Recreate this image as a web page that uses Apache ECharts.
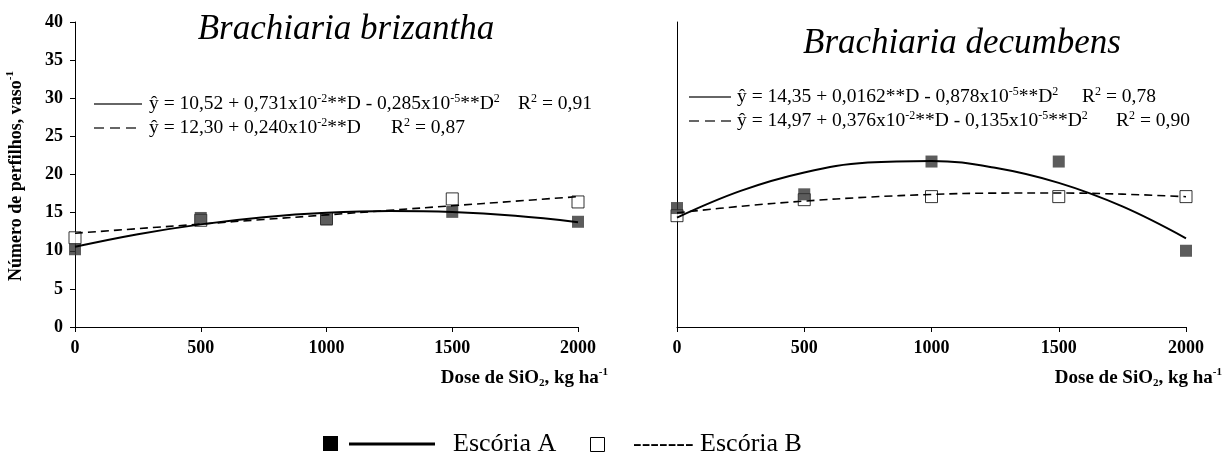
<!DOCTYPE html>
<html><head><meta charset="utf-8">
<script src="https://cdn.jsdelivr.net/npm/echarts@6/dist/echarts.min.js"></script>
<style>html,body{margin:0;padding:0;background:#fff}#c{width:1224px;height:464px}</style>
</head><body><div id="c"></div>
<script>
// ---- data ----
const doses = [0, 500, 1000, 1500, 2000];
const brizA = [10.2, 14.3, 14.1, 15.1, 13.8];
const brizB = [11.7, 14.0, 14.2, 16.8, 16.4];
const decA = [15.6, 17.4, 21.7, 21.7, 10.0];
const decB = [14.6, 16.7, 17.1, 17.1, 17.1];
const curveDoses = [0, 250, 500, 750, 1000, 1250, 1500, 1750, 2000];
const brizFitA = [10.52, 12.17, 13.46, 14.40, 14.98, 15.20, 15.07, 14.58, 13.74];
const brizFitB = [12.30, 12.90, 13.50, 14.10, 14.70, 15.30, 15.90, 16.50, 17.10];
const decFitA = [14.35, 17.85, 20.26, 21.56, 21.77, 20.88, 18.90, 15.81, 11.63];
const decFitB = [14.97, 15.83, 16.51, 17.03, 17.38, 17.56, 17.57, 17.42, 17.09];
const titles = ['Brachiaria brizantha', 'Brachiaria decumbens'];
const seriesNames = ['Escória A', 'Escória B'];
const equations = [
  'ŷ = 10,52 + 0,731x10{sup|-2}**D - 0,285x10{sup|-5}**D{sup|2}',
  'ŷ = 12,30 + 0,240x10{sup|-2}**D',
  'ŷ = 14,35 + 0,0162**D - 0,878x10{sup|-5}**D{sup|2}',
  'ŷ = 14,97 + 0,376x10{sup|-2}**D - 0,135x10{sup|-5}**D{sup|2}'
];
const r2 = ['R{sup|2} = 0,91', 'R{sup|2} = 0,87', 'R{sup|2} = 0,78', 'R{sup|2} = 0,90'];

const FF = 'Liberation Serif, Times New Roman, serif';
const zip = (xs, ys) => xs.map((x, i) => [x, ys[i]]);

const chart = echarts.init(document.getElementById('c'), null, {renderer: 'canvas'});

const EQ = 19.5;
const supRich = {
  sup: {fontSize: 12, fontFamily: FF, color: '#000', verticalAlign: 'top', lineHeight: 22},
  sub: {fontSize: 12, fontFamily: FF, color: '#000', verticalAlign: 'bottom', lineHeight: 22}
};
function eqText(x, y, txt) {
  return {type: 'text', x: x, y: y, style: {text: txt, fontFamily: FF, fontSize: EQ, fill: '#000',
    verticalAlign: 'middle', lineHeight: 22, rich: supRich}};
}
function sample(x1, x2, y, dashed) {
  return {type: 'line', shape: {x1: x1, y1: y, x2: x2, y2: y},
    style: {stroke: '#666', lineWidth: 2, lineDash: dashed ? [10, 6] : null}};
}
const boldRich = {
  sup: {fontSize: 11, fontWeight: 'bold', fontFamily: FF, verticalAlign: 'top', lineHeight: 22},
  sub: {fontSize: 11, fontWeight: 'bold', fontFamily: FF, verticalAlign: 'bottom', lineHeight: 22}
};

const xAxisBase = {
  type: 'value', min: 0, max: 2000, interval: 500,
  axisLine: {lineStyle: {color: '#000', width: 1}},
  axisTick: {show: true, length: 5, lineStyle: {color: '#000'}},
  axisLabel: {fontFamily: FF, fontWeight: 'bold', fontSize: 18, color: '#000', margin: 12,
    formatter: v => String(v)},
  splitLine: {show: false}
};

function scatterOpen(name, xi, data) {
  return {name: name, type: 'scatter', xAxisIndex: xi, yAxisIndex: xi, data: data, symbol: 'rect', symbolSize: 12,
    itemStyle: {color: '#fff', borderColor: '#000', borderWidth: 1}, z: 2};
}
function scatterFilled(name, xi, data) {
  return {name: name, type: 'scatter', xAxisIndex: xi, yAxisIndex: xi, data: data, symbol: 'rect', symbolSize: 12,
    itemStyle: {color: '#333'}, z: 3};
}
function fit(name, xi, data, dashed) {
  return {name: name, type: 'line', xAxisIndex: xi, yAxisIndex: xi, data: data, smooth: 0.4, showSymbol: false,
    lineStyle: {color: '#000', width: dashed ? 1.6 : 2, type: dashed ? [8, 5] : 'solid'}, z: 4, silent: true};
}

const option = {
  backgroundColor: '#fff',
  animation: false,
  grid: [
    {left: 75, top: 22, width: 503, height: 305},
    {left: 677, top: 22, width: 509, height: 305}
  ],
  xAxis: [
    Object.assign({gridIndex: 0}, xAxisBase),
    Object.assign({gridIndex: 1}, xAxisBase)
  ],
  yAxis: [
    {gridIndex: 0, type: 'value', min: 0, max: 40, interval: 5,
      axisLine: {show: true, lineStyle: {color: '#000'}},
      axisTick: {show: true, length: 5, lineStyle: {color: '#000'}},
      axisLabel: {fontFamily: FF, fontWeight: 'bold', fontSize: 18, color: '#000', margin: 12},
      splitLine: {show: false}},
    {gridIndex: 1, type: 'value', min: 0, max: 40, interval: 5,
      axisLine: {show: true, lineStyle: {color: '#000'}},
      axisTick: {show: false}, axisLabel: {show: false}, splitLine: {show: false}}
  ],
  series: [
    scatterOpen(seriesNames[1], 0, zip(doses, brizB)),
    scatterFilled(seriesNames[0], 0, zip(doses, brizA)),
    fit(seriesNames[0] + ' fit', 0, zip(curveDoses, brizFitA), false),
    fit(seriesNames[1] + ' fit', 0, zip(curveDoses, brizFitB), true),
    scatterOpen(seriesNames[1], 1, zip(doses, decB)),
    scatterFilled(seriesNames[0], 1, zip(doses, decA)),
    fit(seriesNames[0] + ' fit', 1, zip(curveDoses, decFitA), false),
    fit(seriesNames[1] + ' fit', 1, zip(curveDoses, decFitB), true)
  ],
  graphic: [
    {type: 'text', x: 346, y: 30, style: {text: titles[0], fontFamily: FF, fontStyle: 'italic', fontSize: 35, fill: '#000', align: 'center', verticalAlign: 'middle'}},
    {type: 'text', x: 962, y: 44, style: {text: titles[1], fontFamily: FF, fontStyle: 'italic', fontSize: 35, fill: '#000', align: 'center', verticalAlign: 'middle'}},
    sample(94, 142, 104, false),
    sample(94, 142, 128, true),
    eqText(149, 104, equations[0]),
    eqText(518, 104, r2[0]),
    eqText(149, 128, equations[1]),
    eqText(391, 128, r2[1]),
    sample(689, 731, 97, false),
    sample(689, 731, 121, true),
    eqText(737, 97, equations[2]),
    eqText(1082, 97, r2[2]),
    eqText(737, 121, equations[3]),
    eqText(1116, 121, r2[3]),
    {type: 'text', x: 16, y: 176, rotation: Math.PI / 2,
      style: {text: 'Número de perfilhos, vaso{sup|-1}', fontFamily: FF, fontWeight: 'bold', fontSize: 18, fill: '#000', align: 'center', verticalAlign: 'middle', lineHeight: 22, rich: boldRich}},
    {type: 'text', x: 608, y: 378, style: {text: 'Dose de SiO{sub|2}, kg ha{sup|-1}', fontFamily: FF, fontWeight: 'bold', fontSize: 19, fill: '#000', align: 'right', verticalAlign: 'middle', lineHeight: 22, rich: boldRich}},
    {type: 'text', x: 1222, y: 378, style: {text: 'Dose de SiO{sub|2}, kg ha{sup|-1}', fontFamily: FF, fontWeight: 'bold', fontSize: 19, fill: '#000', align: 'right', verticalAlign: 'middle', lineHeight: 22, rich: boldRich}},
    // bottom legend
    {type: 'rect', shape: {x: 323, y: 436, width: 15, height: 15}, style: {fill: '#000'}},
    {type: 'line', shape: {x1: 349, y1: 444, x2: 435, y2: 444}, style: {stroke: '#000', lineWidth: 3}},
    {type: 'text', x: 453, y: 444, style: {text: seriesNames[0], fontFamily: FF, fontSize: 26, fill: '#000', verticalAlign: 'middle'}},
    {type: 'rect', shape: {x: 590.5, y: 437.5, width: 14, height: 14}, style: {fill: '#fff', stroke: '#000', lineWidth: 1}},
    {type: 'text', x: 633, y: 444, style: {text: '------- ' + seriesNames[1], fontFamily: FF, fontSize: 26, fill: '#000', verticalAlign: 'middle'}}
  ]
};
chart.setOption(option);
</script>
</body></html>
